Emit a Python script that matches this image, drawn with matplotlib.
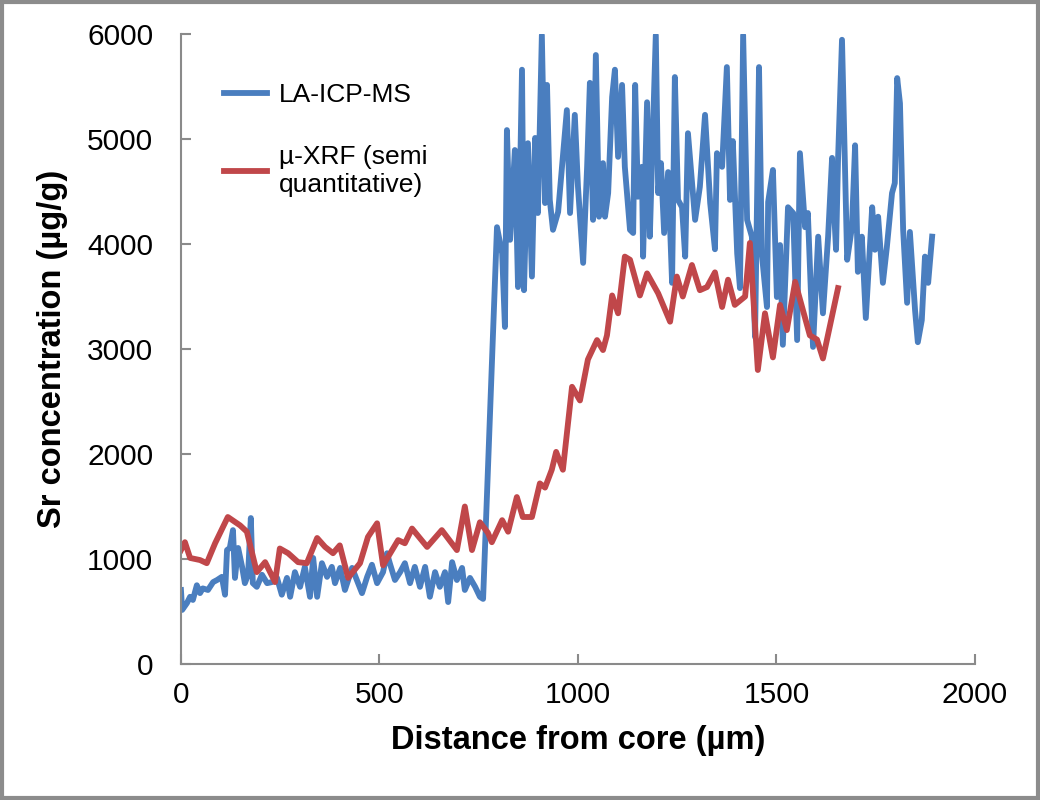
import matplotlib.pyplot as plt
from matplotlib.patches import Rectangle

plt.rcParams['font.family'] = ['Liberation Sans', 'DejaVu Sans']

# LA-ICP-MS profile (distance in um, Sr in ug/g)
la_x = [0, 3, 15, 23, 30, 40, 48, 55, 68, 81, 91, 103, 111, 116, 123, 131, 136, 144,
        154, 161, 169, 176, 181, 191, 204, 217, 229, 242, 254, 267, 275, 287, 300,
        312, 325, 333, 343, 355, 368, 380, 388, 401, 413, 431, 443, 456, 469, 481,
        494, 509, 519, 526, 539, 552, 564, 577, 589, 602, 615, 627, 640, 652, 665,
        673, 683, 695, 708, 715, 728, 741, 753, 761,
        796, 809, 816, 821, 829, 841, 849, 859, 864, 874, 884, 892, 899, 909, 917,
        922, 929, 937, 950, 972, 980, 992, 1000, 1013, 1023, 1030, 1038, 1045, 1053,
        1063, 1068, 1076, 1086, 1093, 1101, 1111, 1118, 1131, 1139, 1144, 1151, 1161,
        1164, 1174, 1181, 1186, 1196, 1202, 1209, 1217, 1227, 1237, 1244, 1252, 1262,
        1270, 1277, 1295, 1307, 1320, 1333, 1345, 1350, 1363, 1375, 1383, 1390, 1401,
        1408, 1416, 1426, 1438, 1446, 1456, 1463, 1476, 1479, 1491, 1501, 1509, 1516,
        1529, 1542, 1552, 1559, 1572, 1579, 1592, 1605, 1617, 1630, 1640, 1642, 1650,
        1655, 1665, 1678, 1690, 1698, 1705, 1715, 1725, 1741, 1748, 1756, 1768, 1778,
        1791, 1798, 1804, 1811, 1819, 1829, 1836, 1849, 1856, 1866, 1874, 1882, 1892]
la_y = [705, 515, 580, 640, 610, 750, 675, 720, 705, 780, 800, 830, 660, 1085, 1105,
        1275, 820, 1105, 925, 770, 850, 1390, 770, 735, 850, 770, 780, 820, 660, 820,
        640, 875, 735, 925, 640, 1010, 640, 960, 830, 925, 770, 915, 705, 915, 800,
        675, 830, 945, 770, 875, 1055, 960, 800, 875, 960, 770, 925, 735, 925, 640,
        875, 735, 875, 590, 970, 800, 915, 705, 820, 735, 640, 620,
        4160, 3910, 3210, 5085, 4040, 4895, 3590, 5660, 3560, 4960, 3690, 5010, 4295,
        5990, 4390, 5515, 4420, 4135, 4305, 5275, 4295, 5230, 4545, 3820, 4735, 5535,
        4230, 5800, 4260, 4770, 4260, 4485, 5400, 5660, 4830, 5515, 4735, 4135, 4105,
        5515, 4450, 4735, 3880, 5350, 4070, 4735, 5990, 4485, 4770, 4105, 4685, 3630,
        5590, 4420, 4350, 3880, 5055, 4230, 4545, 5230, 4390, 3950, 4865, 4735, 5685,
        4420, 4980, 3910, 3580, 5990, 4230, 4070, 3115, 5685, 3910, 3400, 4400, 4705,
        3495, 3990, 3040, 4350, 4295, 3085, 4865, 4160, 4295, 3020, 4070, 3340, 4070,
        4820, 4545, 3945, 4800, 5945, 3850, 4160, 4940, 3735, 4070, 3295, 4350, 3945,
        4260, 3630, 3970, 4485, 4580, 5580, 5340, 4135, 3440, 4115, 3370, 3065, 3275,
        3880, 3630, 4070]

# u-XRF profile (semi quantitative)
xrf_x = [0, 10, 23, 48, 65, 86, 118, 149, 166, 191, 212, 237, 249, 270, 295, 317,
         343, 363, 383, 400, 421, 451, 471, 494, 509, 547, 564, 582, 620, 657, 695,
         715, 733, 753, 773, 783, 809, 824, 846, 861, 884, 904, 917, 934, 945, 962,
         985, 1005, 1025, 1048, 1063, 1073, 1086, 1101, 1118, 1131, 1156, 1174, 1202,
         1232, 1249, 1264, 1287, 1307, 1325, 1345, 1363, 1378, 1395, 1421, 1433, 1453,
         1471, 1491, 1509, 1526, 1547, 1584, 1602, 1617, 1655]
xrf_y = [1085, 1160, 1010, 990, 960, 1150, 1400, 1320, 1260, 875, 970, 780, 1100,
         1055, 970, 960, 1200, 1115, 1055, 1130, 820, 960, 1210, 1340, 940, 1180, 1150,
         1290, 1115, 1275, 1085, 1500, 1085, 1350, 1250, 1160, 1370, 1260, 1590, 1400,
         1400, 1720, 1680, 1850, 2020, 1850, 2640, 2510, 2900, 3085, 2990, 3130, 3510,
         3340, 3880, 3850, 3510, 3720, 3530, 3260, 3690, 3500, 3800, 3560, 3590, 3730,
         3400, 3660, 3420, 3500, 4010, 2800, 3340, 2920, 3420, 3180, 3640, 3130, 3090,
         2910, 3580]

blue = '#4A7EBF'
red = '#C0474A'
grey = '#8A8A8A'

fig = plt.figure(figsize=(10.4, 8), dpi=100)
ax = fig.add_axes([0.174, 0.17, 0.7635, 0.7875])

ax.plot(la_x, la_y, color=blue, lw=4.2, solid_joinstyle='round', label='LA-ICP-MS')
ax.plot(xrf_x, xrf_y, color=red, lw=4.2, solid_joinstyle='round', label='µ-XRF (semi\nquantitative)')

ax.set_xlim(0, 2000)
ax.set_ylim(0, 6000)
ax.set_xticks(range(0, 2001, 500))
ax.set_yticks(range(0, 6001, 1000))

for s in ['top', 'right']:
    ax.spines[s].set_visible(False)
for s in ['left', 'bottom']:
    ax.spines[s].set_color(grey)
    ax.spines[s].set_linewidth(1.5)

ax.tick_params(axis='both', direction='in', length=7, width=1.5, color=grey, labelsize=21.5)
ax.tick_params(axis='y', pad=20)
ax.tick_params(axis='x', pad=12)

ax.set_xlabel('Distance from core (µm)', fontsize=23.5, fontweight='bold', labelpad=12)
ax.set_ylabel('Sr concentration (µg/g)', fontsize=23.5, fontweight='bold', labelpad=14)

ax.legend(loc='upper left', bbox_to_anchor=(0.024, 0.96), frameon=False, fontsize=19,
          handlelength=1.65, handletextpad=0.45, labelspacing=1.45)

# grey frame round the whole picture
fig.patches.append(Rectangle((0.002, 0.002), 0.996, 0.996, transform=fig.transFigure,
                             fill=False, edgecolor='#8C8C8C', linewidth=3))

fig.savefig('out.png', dpi=100)
